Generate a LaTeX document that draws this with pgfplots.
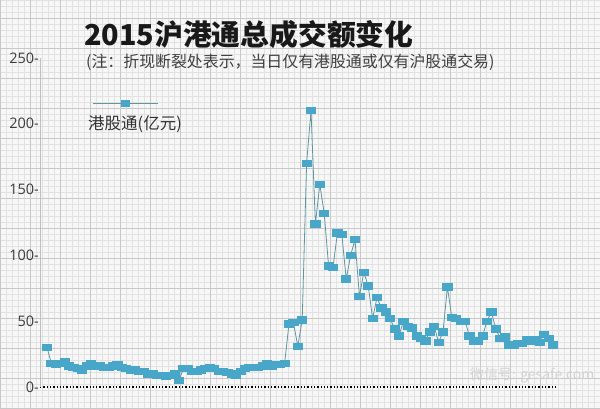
\documentclass[border=0pt]{standalone}
\usepackage{pgfplots}
\pgfplotsset{compat=1.18}
\usepackage{fontspec}
\setmainfont{Open Sans}
\newfontfamily\cjk{Noto Sans CJK SC}
\definecolor{bgc}{RGB}{247,247,247}
\definecolor{gminor}{RGB}{226,226,226}
\definecolor{gmajor}{RGB}{200,200,200}
\definecolor{linec}{RGB}{95,150,160}
\definecolor{markc}{RGB}{72,166,200}
\definecolor{tickc}{RGB}{60,60,60}
\pgfplotstableread{
i v
0 30
1 18
2 17
3 18
4 19
5 16
6 15
7 14
8 13
9 16
10 18
11 16
12 16
13 15
14 15
15 16
16 17
17 15
18 14
19 13
20 13
21 12
22 12
23 10
24 10
25 9
26 9
27 8
28 9
29 10
30 5
31 14
32 14
33 12
34 12
35 13
36 14
37 15
38 14
39 12
40 12
41 11
42 10
43 9
44 12
45 14
46 15
47 15
48 15
49 16
50 18
51 16
52 17
53 17
54 18
55 48
56 49
57 31
58 51
59 170
60 210
61 124
62 154
63 132
64 92
65 91
66 117
67 116
68 82
69 100
70 112
71 69
72 87
73 77
74 52
75 68
76 60
77 57
78 52
79 44
80 39
81 50
82 46
83 45
84 39
85 37
86 35
87 42
88 46
89 34
90 42
91 76
92 53
93 52
94 50
95 50
96 39
97 35
98 35
99 39
100 50
101 57
102 44
103 37
104 38
105 32
106 32
107 33
108 33
109 36
110 35
111 36
112 34
113 40
114 37
115 32
}\datatable
\begin{document}
\begin{tikzpicture}[x=1pt,y=1pt]
\path[use as bounding box] (0,0) rectangle (600,408);
\fill[bgc] (0,0) rectangle (600,408);
\draw[gminor, line width=0.4pt, step=6pt] (0,0) grid (600,408);
\draw[gmajor, line width=0.5pt, step=30pt] (0,0) grid (600,408);
\begin{axis}[
  at={(40pt,21pt)}, anchor=south west,
  scale only axis, width=516pt, height=329pt,
  xmin=-1.59, xmax=115.68, ymin=0, ymax=250,
  axis x line*=bottom, axis y line*=left,
  axis line style={-},
  x axis line style={black, dotted, line width=1.3pt},
  y axis line style={gray!50, line width=1pt},
  xtick=\empty,
  ytick={0,50,100,150,200,250},
  major tick length=0pt,
  yticklabel={\pgfmathprintnumber{\tick}-},
  yticklabel style={font=\fontsize{14.5}{14.5}\selectfont, text=tickc, inner sep=1pt},
  /pgf/number format/assume math mode=true,
  clip=false,
]
\addplot[color=linec, line width=0.8pt, mark=square*,
  mark size=3.4pt, mark options={fill=markc, draw=markc, xscale=1.35, yscale=0.95, solid}]
  table[x=i, y=v] {\datatable};
\end{axis}
\node[anchor=west, inner sep=0pt, text=black!90] at (84,373)
  {\cjk\bfseries\fontsize{28.8}{28.8}\selectfont 2015沪港通总成交额变化};
\node[anchor=west, inner sep=0pt, text=black!75] at (86,346)
  {\cjk\fontsize{15.9}{15.9}\selectfont (注：折现断裂处表示，当日仅有港股通或仅有沪股通交易)};
\draw[linec, line width=0.8pt] (93,305) -- (158,305);
\fill[markc] (120.5,301.5) rectangle (130,308.5);
\node[anchor=west, inner sep=0pt, text=black!80] at (88,284)
  {\cjk\fontsize{16.5}{16.5}\selectfont 港股通(亿元)};
\node[anchor=west, inner sep=0pt, text=gray!35] at (470,33)
  {\cjk\fontsize{14}{14}\selectfont 微信号: gesafe.com};
\end{tikzpicture}
\end{document}
